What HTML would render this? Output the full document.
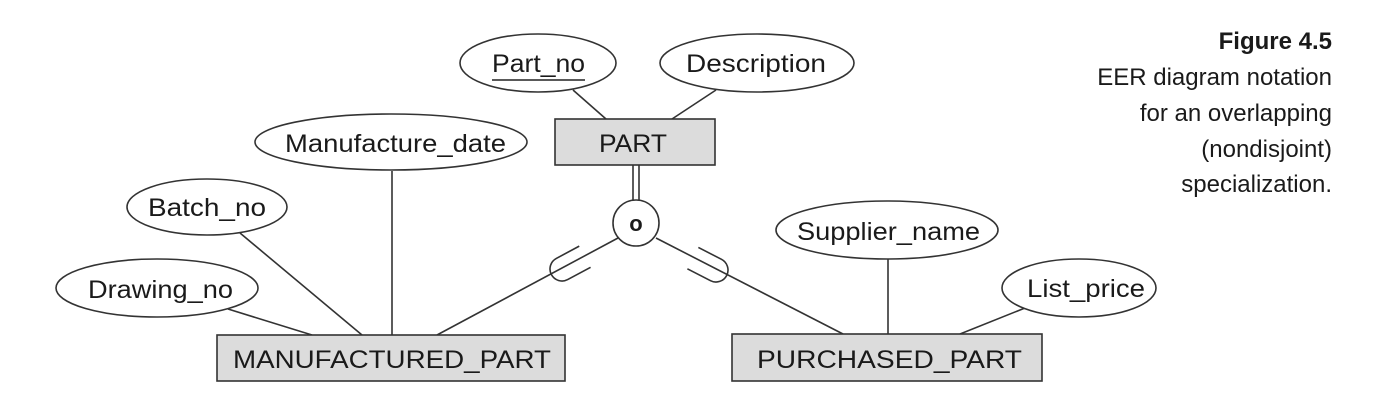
<!DOCTYPE html>
<html><head><meta charset="utf-8"><style>
html,body{margin:0;padding:0;background:#fff;}
svg{display:block;}
text{font-family:"Liberation Sans",Arial,sans-serif;fill:#1a1a1a;}
</style></head><body>
<svg width="1379" height="402" viewBox="0 0 1379 402" xmlns="http://www.w3.org/2000/svg">
<g stroke="#333" stroke-width="1.6" fill="none">
  <!-- PART attribute lines -->
  <line x1="573" y1="90" x2="606" y2="119"/>
  <line x1="716" y1="90" x2="672" y2="119"/>
  <!-- double line -->
  <line x1="633" y1="165" x2="633" y2="201"/>
  <line x1="639" y1="165" x2="639" y2="201"/>
  <!-- specialization lines -->
  <line x1="618" y1="238" x2="437" y2="335"/>
  <line x1="656" y1="238" x2="843" y2="334"/>
  <!-- MFG attrs -->
  <line x1="392" y1="171" x2="392" y2="335"/>
  <line x1="240" y1="233" x2="362" y2="335"/>
  <line x1="228" y1="309" x2="312" y2="335"/>
  <!-- PURCH attrs -->
  <line x1="888" y1="259" x2="888" y2="334"/>
  <line x1="1025" y1="308" x2="960" y2="334"/>
  <!-- cups -->
  <g transform="translate(562,269) rotate(-28.2)"><path d="M26,-12 L0,-12 A12,12 0 0 0 0,12 L26,12"/></g>
  <g transform="translate(716,270) rotate(207.2)"><path d="M26,-12 L0,-12 A12,12 0 0 0 0,12 L26,12"/></g>
  <!-- circle -->
  <circle cx="636" cy="223" r="23" fill="#fff"/>
  <!-- ellipses -->
  <ellipse cx="538" cy="63" rx="78" ry="29" fill="#fff"/>
  <ellipse cx="757" cy="63" rx="97" ry="29" fill="#fff"/>
  <ellipse cx="391" cy="142" rx="136" ry="28" fill="#fff"/>
  <ellipse cx="207" cy="207" rx="80" ry="28" fill="#fff"/>
  <ellipse cx="157" cy="288" rx="101" ry="29" fill="#fff"/>
  <ellipse cx="887" cy="230" rx="111" ry="29" fill="#fff"/>
  <ellipse cx="1079" cy="288" rx="77" ry="29" fill="#fff"/>
  <!-- rects -->
  <rect x="555" y="119" width="160" height="46" fill="#dcdcdc"/>
  <rect x="217" y="335" width="348" height="46" fill="#dcdcdc"/>
  <rect x="732" y="334" width="310" height="47" fill="#dcdcdc"/>
  <line x1="492" y1="80" x2="585" y2="80" stroke="#222"/>
</g>
<g font-size="25">
  <text x="492" y="72" textLength="93" lengthAdjust="spacingAndGlyphs">Part_no</text>
  <text x="686" y="72" textLength="140" lengthAdjust="spacingAndGlyphs">Description</text>
  <text x="599" y="152" textLength="68" lengthAdjust="spacingAndGlyphs">PART</text>
  <text x="285" y="152" textLength="221" lengthAdjust="spacingAndGlyphs">Manufacture_date</text>
  <text x="148" y="216" textLength="118" lengthAdjust="spacingAndGlyphs">Batch_no</text>
  <text x="88" y="298" textLength="145" lengthAdjust="spacingAndGlyphs">Drawing_no</text>
  <text x="233" y="368" textLength="318" lengthAdjust="spacingAndGlyphs">MANUFACTURED_PART</text>
  <text x="797" y="240" textLength="183" lengthAdjust="spacingAndGlyphs">Supplier_name</text>
  <text x="1027" y="297" textLength="118" lengthAdjust="spacingAndGlyphs">List_price</text>
  <text x="757" y="368" textLength="265" lengthAdjust="spacingAndGlyphs">PURCHASED_PART</text>
  <text x="636" y="231" font-size="22" font-weight="bold" text-anchor="middle">o</text>
</g>
<g font-size="24" text-anchor="end">
  <text x="1332" y="49" font-weight="bold" fill="#111">Figure 4.5</text>
  <text x="1332" y="85" fill="#333">EER diagram notation</text>
  <text x="1332" y="121" fill="#333">for an overlapping</text>
  <text x="1332" y="157" fill="#333">(nondisjoint)</text>
  <text x="1332" y="192" fill="#333">specialization.</text>
</g>
</svg>
</body></html>
